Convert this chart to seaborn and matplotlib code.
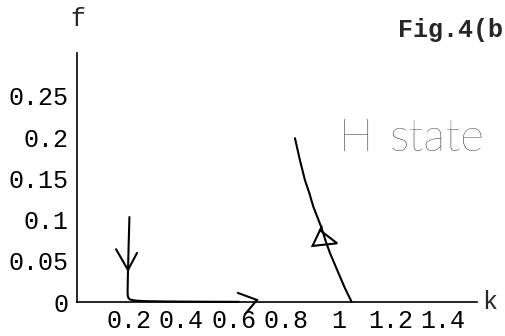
import matplotlib
matplotlib.use("Agg")
import matplotlib.pyplot as plt
import seaborn as sns
import pandas as pd
from matplotlib.ticker import MultipleLocator, FixedLocator

sns.set_style("white")
plt.rcParams["font.family"] = ["Liberation Mono", "DejaVu Sans"]

# Trajectory approaching the axis (flows down, then along k)
low_k = [0.202, 0.200, 0.198, 0.196, 0.195, 0.196, 0.199, 0.205, 0.215, 0.230, 0.260, 0.350, 0.500, 0.620]
low_f = [0.103, 0.080, 0.055, 0.030, 0.012, 0.007, 0.0045, 0.003, 0.0022, 0.0016, 0.0010, 0.0006, 0.0003, 0.0002]

# H-state branch leaving the axis
h_k = [1.050, 1.047, 1.025, 1.006, 0.987, 0.968, 0.952, 0.936, 0.919, 0.904, 0.889, 0.872, 0.853, 0.834]
h_f = [0.000, 0.0024, 0.0166, 0.0307, 0.0449, 0.0591, 0.0732, 0.0895, 0.1035, 0.1157, 0.132, 0.148, 0.172, 0.1987]

x_ticks = [0.2, 0.4, 0.6, 0.8, 1.0, 1.2, 1.4]
x_tick_labels = ["0.2", "0.4", "0.6", "0.8", "1", "1.2", "1.4"]
y_ticks = [0.0, 0.05, 0.10, 0.15, 0.20, 0.25]
y_tick_labels = ["0", "0.05", "0.1", "0.15", "0.2", "0.25"]

# hand-drawn direction marks
down_arrow_k = [0.151, 0.1966, 0.231]
down_arrow_f = [0.064, 0.0388, 0.0595]
right_arrow_k = [0.616, 0.689, 0.643]
right_arrow_f = [0.011, 0.0025, -0.015]
tri_k = [0.936, 0.901, 0.995, 0.930]
tri_f = [0.0914, 0.068, 0.0712, 0.087]

W, H = 505, 336
fig = plt.figure(figsize=(W / 100, H / 100), dpi=100)
ax = fig.add_axes([76.5 / W, 34 / H, 400.5 / W, 249 / H])

low = pd.DataFrame({"k": low_k, "f": low_f})
high = pd.DataFrame({"k": h_k, "f": h_f})
sns.lineplot(data=low, x="k", y="f", sort=False, estimator=None, color="black",
             linewidth=1.5, ax=ax, clip_on=False)
sns.lineplot(data=high, x="k", y="f", sort=False, estimator=None, color="black",
             linewidth=1.5, ax=ax, clip_on=False)

for kk, ff in [(down_arrow_k, down_arrow_f), (right_arrow_k, right_arrow_f), (tri_k, tri_f)]:
    ax.plot(kk, ff, color="black", linewidth=1.5, clip_on=False,
            solid_joinstyle="miter")

ax.set_xlim(0, 1.529)
ax.set_ylim(0, 0.302)
ax.set_xlabel("")
ax.set_ylabel("")

ax.xaxis.set_major_locator(FixedLocator(x_ticks))
ax.set_xticklabels(x_tick_labels)
ax.xaxis.set_minor_locator(MultipleLocator(0.05))
ax.yaxis.set_major_locator(FixedLocator(y_ticks))
ax.set_yticklabels(y_tick_labels)
ax.yaxis.set_minor_locator(MultipleLocator(0.01))

for side in ["top", "right"]:
    ax.spines[side].set_visible(False)
for side in ["left", "bottom"]:
    ax.spines[side].set_color("black")
    ax.spines[side].set_linewidth(1.2)

ax.tick_params(axis="both", which="major", direction="in", length=3.5, width=0.9,
               color="black", labelsize=18, labelcolor="black")
ax.tick_params(axis="both", which="minor", direction="in", length=2, width=0.7,
               color="black")
ax.tick_params(axis="x", pad=5)
ax.tick_params(axis="y", pad=6)
for lab in ax.get_xticklabels() + ax.get_yticklabels():
    lab.set_fontfamily("Liberation Mono")

def px(x, y):
    return x / W, 1 - y / H

fig.text(*px(78, 19), "f", fontsize=18, ha="center", va="center",
         family="Liberation Mono")
fig.text(*px(490, 302), "k", fontsize=18, ha="center", va="center",
         family="Liberation Mono")
fig.text(*px(398, 37), "Fig.4(b", fontsize=18, ha="left", va="baseline",
         family="Liberation Mono", fontweight="bold")
fig.text(*px(339, 151), "H", fontsize=33, ha="left", va="baseline",
         family="Lato", fontweight="light")
fig.text(*px(390, 151), "state", fontsize=33, ha="left", va="baseline",
         family="Lato", fontweight="light")

fig.savefig("out.png", dpi=100, facecolor="white")
